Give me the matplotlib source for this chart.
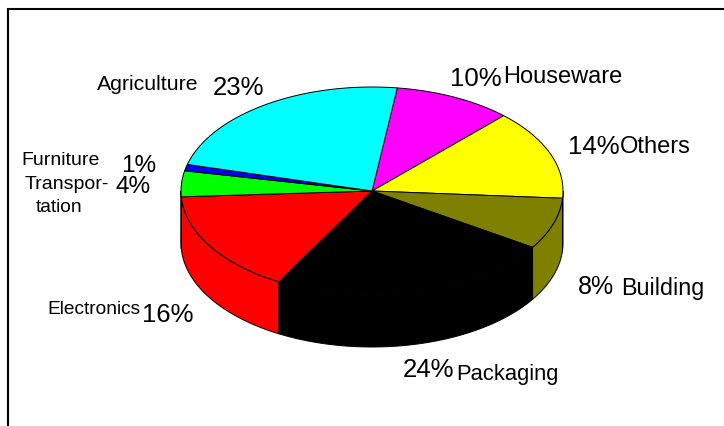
import numpy as np
import matplotlib
matplotlib.use("Agg")
import matplotlib.pyplot as plt
from matplotlib.patches import Polygon

categories = ["Houseware", "Others", "Building", "Packaging", "Electronics",
              "Transportation", "Furniture", "Agriculture"]
shares = [10, 14, 8, 24, 16, 4, 1, 23]
colors = ["#ff00ff", "#ffff00", "#808000", "#000000", "#ff0000",
          "#00ff00", "#0000ff", "#00ffff"]
START_ANGLE = 82.4

W, H = 724, 427
CX, CY, RX, RY, DEPTH = 372, 192, 191, 104, 52

plt.rcParams["font.family"] = ["Liberation Sans", "DejaVu Sans"]
fig = plt.figure(figsize=(W / 100, H / 100), dpi=100)
ax = fig.add_axes([0, 0, 1, 1])
ax.set_xlim(0, W)
ax.set_ylim(H, 0)
ax.axis("off")


def rim(a0, a1, drop=0):
    t = np.radians(np.linspace(a0, a1, 160))
    return np.column_stack([CX + RX * np.cos(t), CY - RY * np.sin(t) + drop])


# frame: only the top and left sides lie inside the canvas
ax.plot([8, 8, W + 5], [H + 5, 10, 10], color="black", lw=1.5,
        solid_joinstyle="miter", zorder=1)

# angular extent of every slice, running clockwise
edges = START_ANGLE - np.cumsum([0] + shares) * 3.6

# side walls: only the front half of the ellipse shows
for c, a0, a1 in zip(colors, edges[:-1], edges[1:]):
    lo, hi = max(a1, -180), min(a0, 0)
    if lo >= hi:
        continue
    top = rim(hi, lo)
    bottom = rim(lo, hi, DEPTH)
    ax.add_patch(Polygon(np.vstack([top, bottom]), closed=True, facecolor=c,
                         edgecolor="black", lw=0.7, zorder=2))

# top face
for c, a0, a1 in zip(colors, edges[:-1], edges[1:]):
    pts = np.vstack([[CX, CY], rim(a0, a1)])
    ax.add_patch(Polygon(pts, closed=True, facecolor=c, edgecolor="black",
                         lw=0.7, joinstyle="round", zorder=3))

# category names: (text, centre x, baseline y, font size)
name_labels = [
    ("Agriculture", 148, 90, 15.3),
    ("Houseware", 563, 83, 17.0),
    ("Others", 655, 153, 17.0),
    ("Building", 663, 295, 16.8),
    ("Packaging", 507, 380, 15.8),
    ("Electronics", 94, 314, 13.8),
    ("Furniture", 61, 165, 14.0),
    ("Transpor-", 67, 189, 14.0),
    ("tation", 59, 212, 13.8),
]
# percentages: (text, centre x, baseline y, font size)
percent_labels = [
    ("23%", 238, 95, 18.5),
    ("10%", 476, 86, 18.5),
    ("14%", 594, 154, 18.5),
    ("8%", 596, 294, 18.0),
    ("24%", 429, 377, 18.5),
    ("16%", 168, 322, 18.5),
    ("1%", 139, 172, 17.5),
    ("4%", 133, 193, 17.5),
]
for text, x, y, size in name_labels + percent_labels:
    ax.text(x, y, text, fontsize=size, ha="center", va="baseline",
            color="black", zorder=4)

fig.savefig("out.png", dpi=100, facecolor="white")
